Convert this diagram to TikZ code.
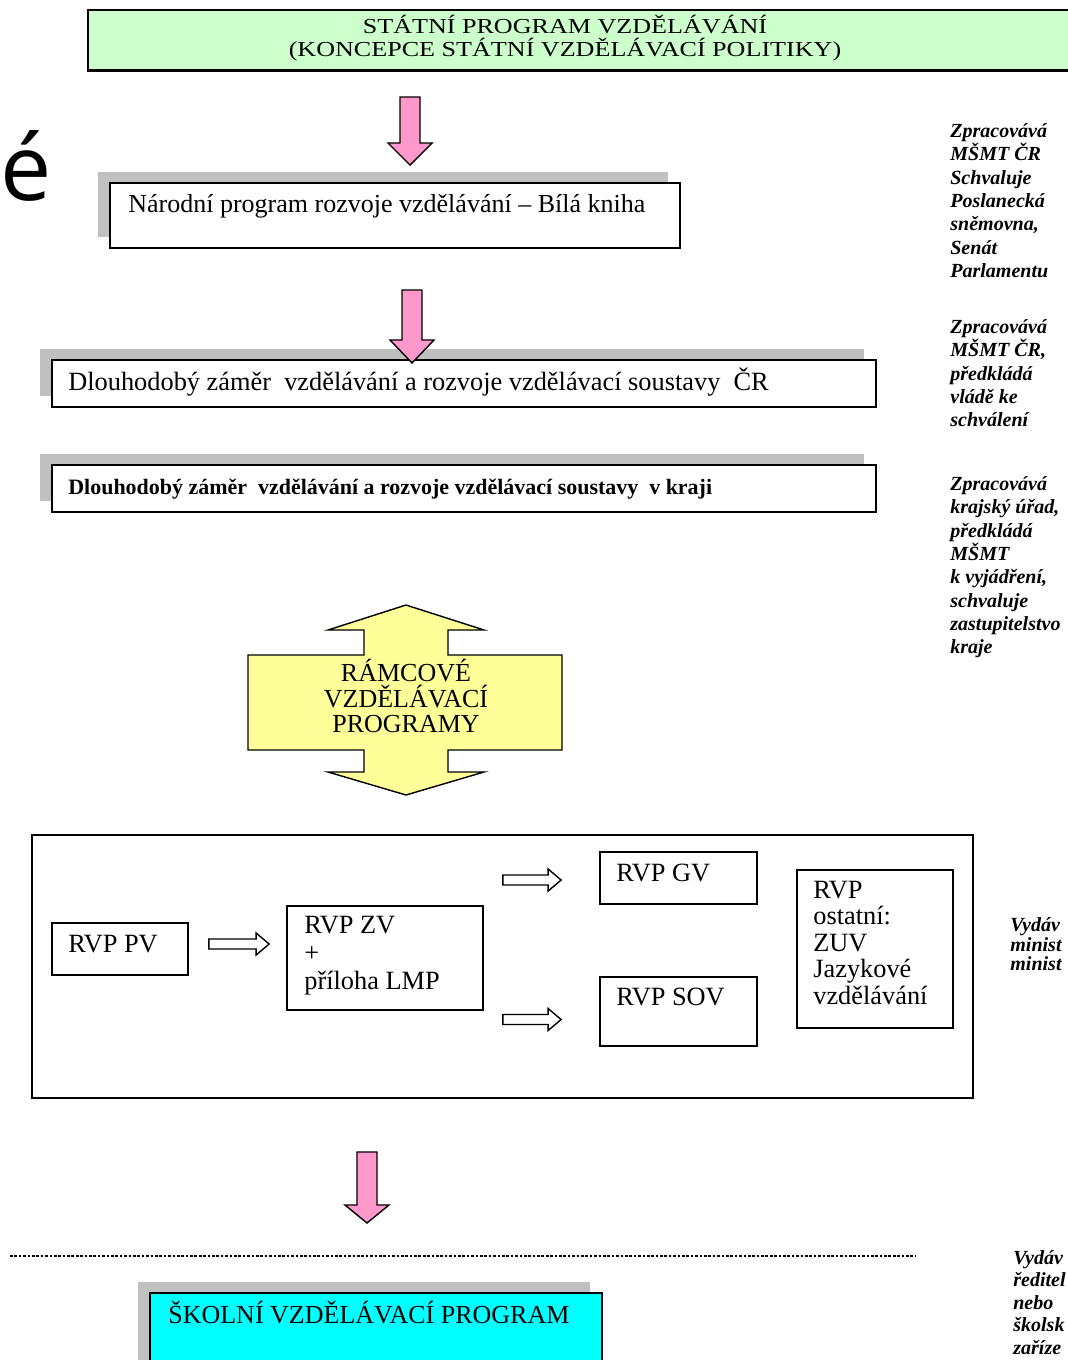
\documentclass[tikz,border=0pt]{standalone}
\usepackage{fontspec}
\setmainfont{Liberation Serif}
\newfontfamily\headfont{Open Sans}
\usetikzlibrary{positioning,fit,calc,shadows}

\definecolor{spvgreen}{HTML}{CCFFCC}
\definecolor{arrowpink}{HTML}{FF99CC}
\definecolor{rvpyellow}{HTML}{FFFF99}
\definecolor{svpcyan}{HTML}{00FFFF}
\definecolor{shadowgray}{HTML}{C0C0C0}

\tikzset{
	box/.style={draw, line width=1pt, inner sep=0pt, fill=white},
	shadowed/.style={drop shadow={shadow xshift=-0.24cm, shadow yshift=0.22cm, fill=shadowgray, opacity=1}},
	boxtext/.style={inner sep=0pt, anchor=west, font=\fontsize{15}{16}\selectfont},
	note/.style={inner sep=0pt, anchor=north west, align=left, font=\fontsize{11.4}{13.3}\selectfont\bfseries\itshape},
	hollow/.style={draw, fill=white, line width=0.8pt},
}

\begin{document}
\begin{tikzpicture}[x=0.02cm, y=-0.02cm]
	
	\path[use as bounding box, clip] (0,0) rectangle (1068,1360);
	
	% piece of the slide title
	\node[inner sep=0pt, anchor=base west, font=\headfont\fontsize{52}{52}\selectfont] (hdr) at (0,200) {é};
	
	% state programme
	\node[box, fill=spvgreen, fit={(88,10) (1100,70)}] (spv) {};
	\draw[line width=1.8pt] (spv.south west) -- (spv.south east);
	\node[align=center, inner sep=0pt, xscale=1.1, yscale=0.9, transform shape, font=\fontsize{13.5}{14.5}\selectfont] (spvtext) at (565,38)
	{STÁTNÍ PROGRAM VZDĚLÁVÁNÍ\\(KONCEPCE STÁTNÍ VZDĚLÁVACÍ POLITIKY)};
	
	% national programme and long-term plans
	\node[box, shadowed, fit={(110,183) (680,248)}] (npv) {};
	\node[boxtext, font=\fontsize{14.8}{16}\selectfont] (npvtext) at (128,206) {Národní program rozvoje vzdělávání – Bílá kniha};
	
	\node[box, shadowed, fit={(52,360) (876,407)}] (dzcr) {};
	\node[boxtext] (dzcrtext) at (68,382) {Dlouhodobý záměr\ \ vzdělávání a rozvoje vzdělávací soustavy\ \ ČR};
	
	\node[box, shadowed, fit={(52,465) (876,512)}] (dzkr) {};
	\node[boxtext, font=\fontsize{12.5}{14}\selectfont\bfseries] (dzkrtext) at (68,489) {Dlouhodobý záměr\ \ vzdělávání a rozvoje vzdělávací soustavy\ \ v kraji};
	
	% notes on the right
	\node[note] (note1) at (950,123) {Zpracovává\\MŠMT ČR\\Schvaluje\\Poslanecká\\sněmovna,\\Senát\\Parlamentu};
	\node[note] (note2) at (950,319) {Zpracovává\\MŠMT ČR,\\předkládá\\vládě ke\\schválení};
	\node[note] (note3) at (950,476) {Zpracovává\\krajský úřad,\\předkládá\\MŠMT\\k vyjádření,\\schvaluje\\zastupitelstvo\\kraje};
	\node[note, font=\fontsize{11.4}{11.3}\selectfont\bfseries\itshape] (note4) at (1010,917) {Vydáv\\minist\\minist};
	\node[note, font=\fontsize{11.4}{12.8}\selectfont\bfseries\itshape] (note5) at (1013,1250) {Vydáv\\ředitel\\nebo\\školsk\\zaříze};
	
	% framework programmes
	\filldraw[fill=rvpyellow, line width=0.8pt] (406,605) -- (484,630) -- (448,630) -- (448,655) -- (562,655) -- (562,750)
	-- (448,750) -- (448,772) -- (484,772) -- (406,795) -- (328,772) -- (364,772) -- (364,750) -- (248,750)
	-- (248,655) -- (364,655) -- (364,630) -- (328,630) -- cycle;
	\node[align=center, inner sep=0pt, font=\fontsize{14.8}{14.7}\selectfont] (rvp) at (406,696) {RÁMCOVÉ\\VZDĚLÁVACÍ\\PROGRAMY};
	
	\node[box, fit={(32,835) (973,1098)}] (rvpframe) {};
	\node[box, fit={(52,923) (188,975)}] (pv) {};
	\node[boxtext] (pvtext) at (68,944) {RVP PV};
	\node[box, fit={(287,906) (483,1010)}] (zv) {};
	\node[boxtext, anchor=north west, align=left, font=\fontsize{15}{15.9}\selectfont] (zvtext) at (304,916) {RVP ZV\\+\\příloha LMP};
	\node[box, fit={(600,852) (757,904)}] (gv) {};
	\node[boxtext] (gvtext) at (616,873) {RVP GV};
	\node[box, fit={(600,977) (757,1046)}] (sov) {};
	\node[boxtext] (sovtext) at (616,997) {RVP SOV};
	\node[box, fit={(797,870) (953,1028)}] (ost) {};
	\node[boxtext, anchor=north west, align=left, font=\fontsize{15}{15}\selectfont] (osttext) at (813,881) {RVP\\ostatní:\\ZUV\\Jazykové\\vzdělávání};
	
	\coordinate (pvA) at ($(pv.east)+(20,-5)$);
	\coordinate (pvB) at ($(zv.west|-pv.east)+(-17,-5)$);
	\coordinate (gvA) at ($(zv.east|-gv.west)+(19,2)$);
	\coordinate (gvB) at ($(gv.west)+(-38,2)$);
	\coordinate (sovA) at ($(zv.east|-sov.west)+(19,8)$);
	\coordinate (sovB) at ($(sov.west)+(-38,8)$);
	\foreach \a/\b in {pvA/pvB, gvA/gvB, sovA/sovB}
	{
		\draw[hollow] ($(\a)+(0,-5)$) -- ($(\b)+(-13,-5)$) -- ($(\b)+(-13,-11)$) -- (\b) -- ($(\b)+(-13,11)$)
		-- ($(\b)+(-13,5)$) -- ($(\a)+(0,5)$) -- cycle;
	}
	
	% school programme
	\coordinate (dashL) at (10,1256);
	\coordinate (dashR) at (915,1256);
	\draw[dash pattern=on 1.5pt off 1pt, line width=0.6pt] (dashL) -- (dashR);
	
	\node[box, fill=svpcyan, shadowed, fit={(150,1293) (602,1390)}] (svp) {};
	\node[boxtext, font=\fontsize{14.8}{16}\selectfont] (svptext) at (168,1313) {ŠKOLNÍ VZDĚLÁVACÍ PROGRAM};
	
	% pink arrows
	\foreach \cx/\ytop/\ybase/\ytip in {410/97/143/165, 412/290/340/363, 367/1152/1205/1223}
	{
		\filldraw[fill=arrowpink, line width=0.8pt] (\cx-10,\ytop) -- (\cx+10,\ytop) -- (\cx+10,\ybase) -- (\cx+22,\ybase)
		-- (\cx,\ytip) -- (\cx-22,\ybase) -- (\cx-10,\ybase) -- cycle;
	}

\end{tikzpicture}
\end{document}
